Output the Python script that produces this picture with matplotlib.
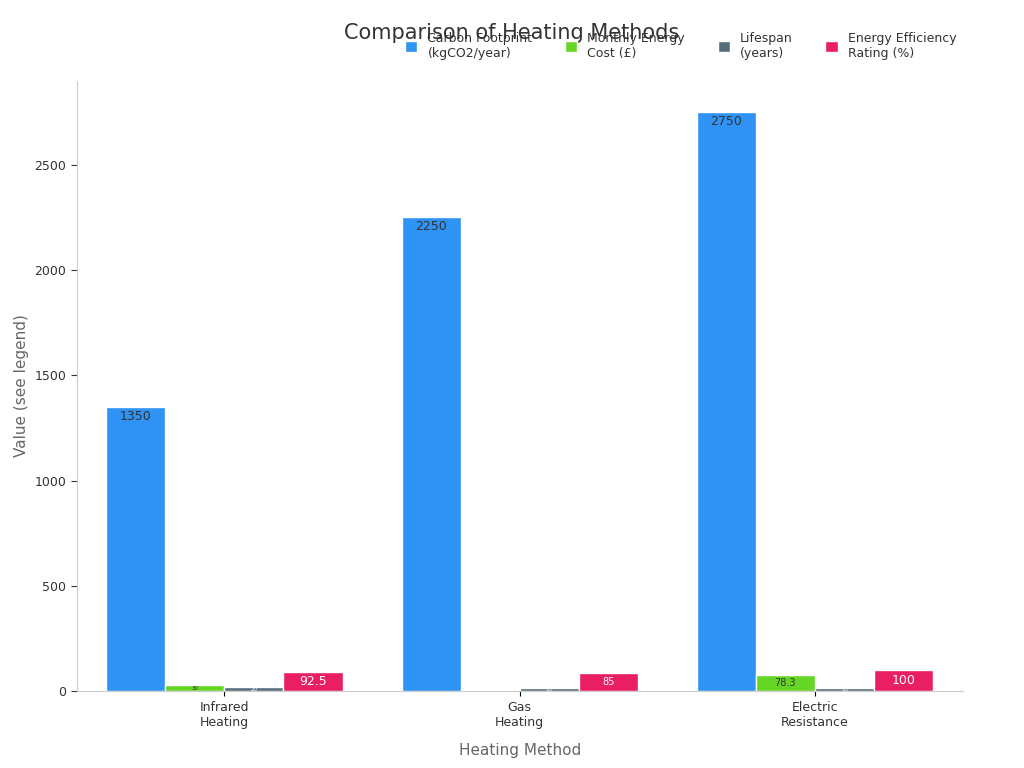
import matplotlib
matplotlib.use("Agg")
import matplotlib.pyplot as plt
import numpy as np

categories = ["Infrared\nHeating", "Gas\nHeating", "Electric\nResistance"]
series_names = ["Carbon Footprint\n(kgCO2/year)", "Monthly Energy\nCost (£)", "Lifespan\n(years)", "Energy Efficiency\nRating (%)"]
carbon = [1350, 2250, 2750]
monthly = [30, np.nan, 78.3]
lifespan = [20, 15, 15]
efficiency = [92.5, 85, 100]
colors = ["#2e93f5", "#66d625", "#546e7a", "#e91e63"]
label_colors = ["#333333", "#333333", "#ffffff", "#ffffff"]

series = [carbon, monthly, lifespan, efficiency]
fig, ax = plt.subplots(figsize=(10.24, 7.68), dpi=100)
fig.subplots_adjust(left=0.075, right=0.94, top=0.895, bottom=0.1)
x = np.arange(len(categories))
w = 0.2
for i, (vals, c) in enumerate(zip(series, colors)):
    pos = x + (i - 1.5) * w
    bars = ax.bar(pos, vals, w, color=c, edgecolor="white", linewidth=1, label=series_names[i])
    for b, v in zip(bars, vals):
        if np.isnan(v):
            continue
        h = b.get_height()
        fs = 9 if h > 90 else (7 if h > 60 else 4)
        txt = f"{v:g}"
        ax.text(b.get_x() + w / 2, h - (45 if i == 0 else h / 2), txt,
                ha="center", va="center", fontsize=fs, color=label_colors[i])

ax.set_xticks(x)
ax.set_xticklabels(categories, fontsize=9, color="#333333")
ax.set_xlim(-0.5, 2.5)
ax.set_ylim(0, 2900)
ax.set_yticks([0, 500, 1000, 1500, 2000, 2500])
ax.tick_params(axis="y", length=4, labelsize=9, colors="#333333")
ax.set_xlabel("Heating Method", fontsize=11, color="#666666", labelpad=10)
ax.set_ylabel("Value (see legend)", fontsize=11, color="#666666")
for s in ["top", "right"]:
    ax.spines[s].set_visible(False)
for s in ["left", "bottom"]:
    ax.spines[s].set_color("#cccccc")
fig.suptitle("Comparison of Heating Methods", fontsize=15, color="#333333", y=0.97, x=0.5)
fig.legend(loc="upper right", bbox_to_anchor=(0.945, 0.973), ncol=4, frameon=False,
           fontsize=9, handlelength=1, handleheight=1, columnspacing=2.6,
           labelcolor="#333333")
fig.savefig("out.png")
